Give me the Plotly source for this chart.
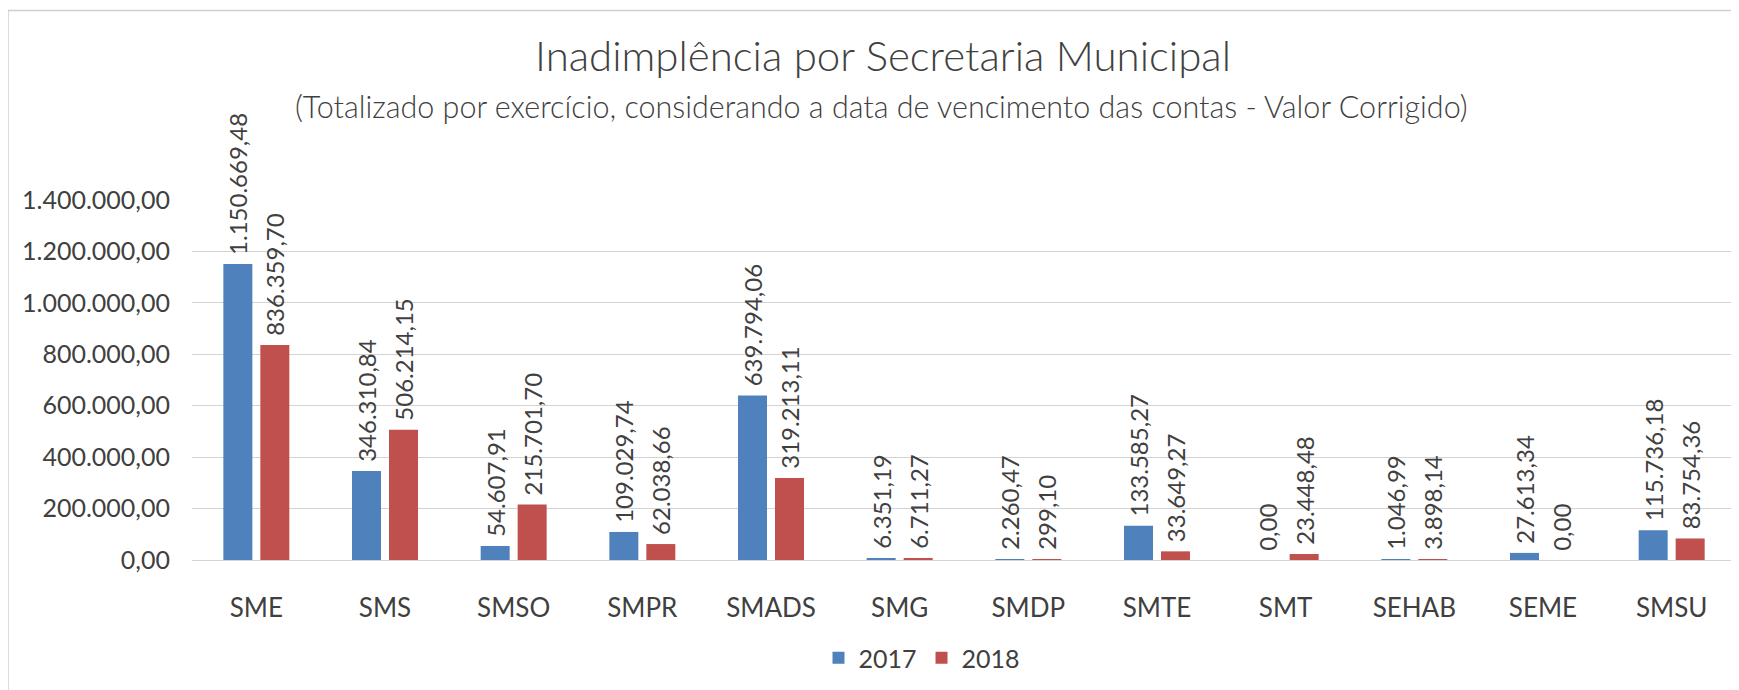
import plotly.graph_objects as go

categories = ["SME", "SMS", "SMSO", "SMPR", "SMADS", "SMG", "SMDP", "SMTE", "SMT", "SEHAB", "SEME", "SMSU"]
values_2017 = [1150669.48, 346310.84, 54607.91, 109029.74, 639794.06, 6351.19, 2260.47, 133585.27, 0.00, 1046.99, 27613.34, 115736.18]
values_2018 = [836359.70, 506214.15, 215701.70, 62038.66, 319213.11, 6711.27, 299.10, 33649.27, 23448.48, 3898.14, 0.00, 83754.36]
series_names = ["2017", "2018"]
series_colors = ["#4F81BD", "#C0504D"]
y_ticks = [0, 200000, 400000, 600000, 800000, 1000000, 1200000, 1400000]

FONT = "Lato"
TXT = "#404040"

# the page body has an 8px margin: figure coordinates = screen coordinates - 8
OFF = 8
W, H = 1739 - OFF, 690 - OFF
PL, PR, PT, PB = 192 - OFF, 1736 - OFF, 200 - OFF, 560 - OFF  # plot area in figure px
L, R, T, B = PL, W - PR, PT, H - PB


def px_x(sx):
    return (sx - OFF - PL) / (PR - PL)


def px_y(sy):
    return (PB - (sy - OFF)) / (PB - PT)


fig = go.Figure()
for name, vals, col in zip(series_names, [values_2017, values_2018], series_colors):
    fig.add_trace(go.Bar(
        x=categories, y=vals, name=name,
        marker=dict(color=col, line=dict(width=0)),
        texttemplate="\u00a0%{y:,.2f}",
        textposition="outside", textangle=-90,
        textfont=dict(family=FONT, size=24, color=TXT),
        constraintext="none", cliponaxis=False,
    ))

fig.update_layout(
    width=W, height=H,
    margin=dict(l=L, r=R, t=T, b=B),
    paper_bgcolor="white", plot_bgcolor="white",
    separators=",.",
    barmode="group", bargap=0.425, bargroupgap=0.216,
    font=dict(family=FONT, color=TXT),
    title=dict(
        text="Inadimplência por Secretaria Municipal",
        font=dict(family=FONT, size=42, color=TXT, weight=300),
        x=(883 - OFF) / W, xanchor="center", xref="container",
        y=1 - (56 - OFF) / H, yanchor="middle", yref="container",
    ),
    legend=dict(
        orientation="h", x=px_x(922), xanchor="center",
        y=px_y(658), yanchor="middle",
        font=dict(family=FONT, size=25, color=TXT),
        traceorder="normal",
    ),
    showlegend=True,
)

fig.add_annotation(
    text="(Totalizado por exercício, considerando a data de vencimento das contas - Valor Corrigido)",
    xref="paper", yref="paper",
    x=px_x(881), y=px_y(106),
    xanchor="center", yanchor="middle", showarrow=False,
    font=dict(family=FONT, size=30.5, color=TXT, weight=300),
)

fig.update_yaxes(
    range=[0, 1400000], tickvals=y_ticks, tickformat=",.2f",
    showgrid=True, gridcolor="#D3D3D3", gridwidth=1.3,
    zeroline=False, showline=False, ticks="",
    ticklabelstandoff=21,
    tickfont=dict(family=FONT, size=25, color=TXT),
)
fig.update_xaxes(
    showgrid=False, showline=True, linecolor="#D3D3D3", linewidth=1.3,
    ticks="", ticklabelstandoff=25,
    tickfont=dict(family=FONT, size=26, color=TXT),
)

# chart-area border (light gray frame like the spreadsheet chart)
fig.add_shape(
    type="rect", xref="paper", yref="paper",
    x0=px_x(8), x1=px_x(1745),
    y0=px_y(720), y1=px_y(10.5),
    line=dict(color="#D0D0D0", width=1.5), fillcolor="rgba(0,0,0,0)", layer="below",
)

fig.write_html("out.html")
